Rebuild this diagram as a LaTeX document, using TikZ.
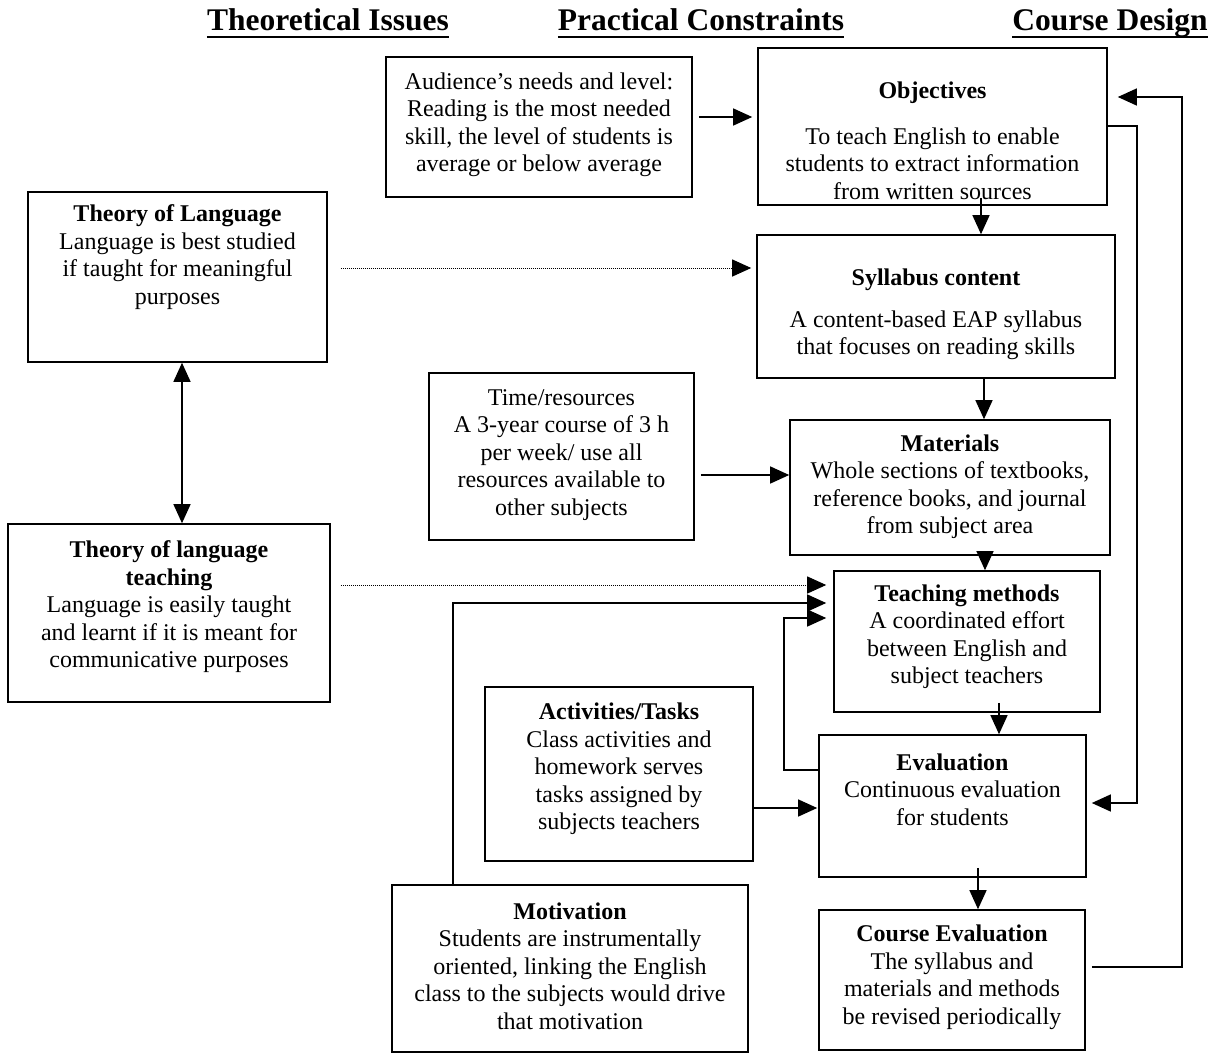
\documentclass[tikz,border=0pt]{standalone}
\usepackage{fontspec}
\setmainfont{Liberation Serif}
\usetikzlibrary{arrows.meta}

\newcommand{\bodyfont}{\fontsize{24}{27.5}\selectfont}
\newcommand{\headfont}{\fontsize{31.5}{36}\selectfont\bfseries}

\begin{document}
\begin{tikzpicture}[x=1pt, y=-1pt,
  >={Triangle[length=19pt,width=17pt]},
  frame/.style={draw, line width=1.6pt, inner sep=0pt},
  body/.style={align=center, font=\bodyfont, inner sep=0pt},
  head/.style={font=\headfont, anchor=base, inner sep=0pt},
  link/.style={line width=1.3pt, ->},
  hint/.style={line width=1pt, densely dotted, ->}]

\useasboundingbox (0,0) rectangle (1224,1055);

% column headings
\node[head] (hth) at (328,30) {Theoretical Issues};
\node[head] (hpc) at (701,30) {Practical Constraints};
\node[head] (hcd) at (1110,30) {Course Design};
\foreach \h in {hth,hpc,hcd}
  \draw[line width=1.5pt] ([yshift=-7pt]\h.base west) -- ([yshift=-7pt]\h.base east);

% theoretical issues
\node[frame, minimum width=299pt, minimum height=170pt] (tol) at (177.5,277) {};
\node[body] (tol-t) at (177.5,257) {\textbf{Theory of Language}\\Language is best studied\\if taught for meaningful\\purposes};
\node[frame, minimum width=322pt, minimum height=178pt] (tlt) at (169,613) {};
\node[body] (tlt-t) at (169,607) {\textbf{Theory of language}\\\textbf{teaching}\\Language is easily taught\\and learnt if it is meant for\\communicative purposes};

% practical constraints
\node[frame, minimum width=306pt, minimum height=140pt] (aud) at (539,127) {};
\node[body] (aud-t) at (539,125) {Audience's needs and level:\\Reading is the most needed\\skill, the level of students is\\average or below average};
\node[frame, minimum width=265pt, minimum height=167pt] (time) at (561.5,456.5) {};
\node[body] (time-t) at (561.5,455) {Time/resources\\A 3-year course of 3 h\\per week/ use all\\resources available to\\other subjects};
\node[frame, minimum width=268pt, minimum height=174pt] (act) at (619,774) {};
\node[body] (act-t) at (619,769) {\textbf{Activities/Tasks}\\Class activities and\\homework serves\\tasks assigned by\\subjects teachers};
\node[frame, minimum width=356pt, minimum height=167pt] (mot) at (570,968.5) {};
\node[body] (mot-t) at (570,966) {\textbf{Motivation}\\Students are instrumentally\\oriented, linking the English\\class to the subjects would drive\\that motivation};

% course design
\node[frame, minimum width=349pt, minimum height=157pt] (obj) at (932.5,126.5) {};
\node[body] (obj-t) at (932.5,141) {\textbf{Objectives}\\[18pt]To teach English to enable\\students to extract information\\from written sources};
\node[frame, minimum width=358pt, minimum height=143pt] (syl) at (936,306.5) {};
\node[body] (syl-t) at (936,314.5) {\textbf{Syllabus content}\\[14pt]A content-based EAP syllabus\\that focuses on reading skills};
\node[frame, minimum width=320pt, minimum height=135pt] (mat) at (950,487.5) {};
\node[body] (mat-t) at (950,486.5) {\textbf{Materials}\\Whole sections of textbooks,\\reference books, and journal\\from subject area};
\node[frame, minimum width=266pt, minimum height=141pt] (teach) at (967,641.5) {};
\node[body] (teach-t) at (967,636.5) {\textbf{Teaching methods}\\A coordinated effort\\between English and\\subject teachers};
\node[frame, minimum width=267pt, minimum height=142pt] (eval) at (952.5,806) {};
\node[body] (eval-t) at (952.5,789.5) {\textbf{Evaluation}\\Continuous evaluation\\for students};
\node[frame, minimum width=266pt, minimum height=140pt] (ceval) at (952,980) {};
\node[body] (ceval-t) at (952,977.5) {\textbf{Course Evaluation}\\The syllabus and\\materials and methods\\be revised periodically};

% main chain
\draw[link, shorten <=-8pt] (obj.south -| 981,0) -- (syl.north -| 981,0);
\draw[link] (syl.south -| 984,0) -- (mat.north -| 984,0);
\draw[link, shorten <=-8pt] (mat.south -| 985,0) -- (teach.north -| 985,0);
\draw[link, shorten <=-10pt] (teach.south -| 999,0) -- (eval.north -| 999,0);
\draw[link, shorten <=-10pt] (eval.south -| 978,0) -- (ceval.north -| 978,0);

% inputs
\draw[link, <->] (tol.south -| 182,0) -- (tlt.north -| 182,0);
\draw[hint, shorten <=13pt, shorten >=5pt] (tol.east |- 0,268) -- (syl.west |- 0,268);
\draw[hint, shorten <=10pt, shorten >=7pt] (tlt.east |- 0,585) -- (teach.west |- 0,585);
\draw[link, shorten <=6pt, shorten >=5pt] (aud.east |- 0,117) -- (obj.west |- 0,117);
\draw[link, shorten <=6pt] (time.east |- 0,475) -- (mat.west |- 0,475);
\draw[link, shorten >=1pt] (act.east |- 0,808) -- (eval.west |- 0,808);
\draw[link, shorten >=7pt] (mot.north -| 453,0) |- (teach.west |- 0,603);

% feedback
\draw[link, shorten >=7pt] (eval.west |- 0,770) -- (784,770) |- (teach.west |- 0,618);
\draw[link, shorten >=5pt] (obj.east |- 0,126) -- (1137,126) |- (eval.east |- 0,803);
\draw[link, shorten <=6pt, shorten >=10pt] (ceval.east |- 0,967) -- (1182,967) |- (obj.east |- 0,97);

\end{tikzpicture}
\end{document}
